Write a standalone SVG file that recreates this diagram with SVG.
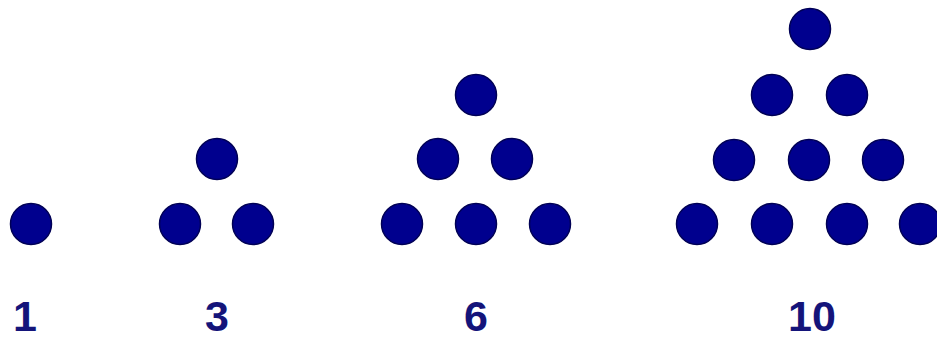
<svg xmlns="http://www.w3.org/2000/svg" width="937" height="340" viewBox="0 0 937 340">
<style>
.dot{fill:#00008e;stroke:#000055;stroke-width:1.5}
.lbl{font-family:"Liberation Sans",Arial,sans-serif;font-weight:bold;font-size:43px;fill:#14147a;text-anchor:middle}
</style>
<rect width="937" height="340" fill="#ffffff"/>
<g id="n1">
<circle class="dot" cx="31" cy="224" r="20.5"/>
<text class="lbl" x="25" y="331">1</text>
</g>
<g id="n3">
<circle class="dot" cx="217" cy="159" r="20.5"/>
<circle class="dot" cx="180" cy="224" r="20.5"/>
<circle class="dot" cx="253" cy="224" r="20.5"/>
<text class="lbl" x="217" y="331">3</text>
</g>
<g id="n6">
<circle class="dot" cx="476" cy="95" r="20.5"/>
<circle class="dot" cx="438" cy="159" r="20.5"/>
<circle class="dot" cx="512" cy="159" r="20.5"/>
<circle class="dot" cx="402" cy="224" r="20.5"/>
<circle class="dot" cx="476" cy="224" r="20.5"/>
<circle class="dot" cx="550" cy="224" r="20.5"/>
<text class="lbl" x="476" y="331">6</text>
</g>
<g id="n10">
<circle class="dot" cx="810" cy="29" r="20.5"/>
<circle class="dot" cx="772" cy="95" r="20.5"/>
<circle class="dot" cx="847" cy="95" r="20.5"/>
<circle class="dot" cx="734" cy="160" r="20.5"/>
<circle class="dot" cx="809" cy="160" r="20.5"/>
<circle class="dot" cx="883" cy="160" r="20.5"/>
<circle class="dot" cx="697" cy="224" r="20.5"/>
<circle class="dot" cx="772" cy="224" r="20.5"/>
<circle class="dot" cx="847" cy="224" r="20.5"/>
<circle class="dot" cx="920" cy="224" r="20.5"/>
<text class="lbl" x="812" y="331">10</text>
</g>
<g id="connectors"/>
</svg>
